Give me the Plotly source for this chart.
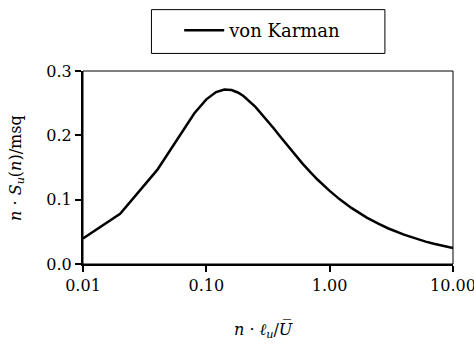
import plotly.graph_objects as go

# Reduced frequency n*l_u/U and normalised spectrum n*S_u(n)/sigma^2 (von Karman)
freq = [0.01, 0.02, 0.04, 0.06, 0.08, 0.10, 0.12, 0.14, 0.16, 0.18, 0.20,
        0.25, 0.30, 0.35, 0.40, 0.50, 0.60, 0.70, 0.80, 1.0, 1.2, 1.5,
        2.0, 2.5, 3.0, 4.0, 5.0, 6.0, 7.0, 8.0, 10.0]
spectrum = [0.0398, 0.0782, 0.1463, 0.1986, 0.2344, 0.2560, 0.2672, 0.2711,
            0.2704, 0.2666, 0.2612, 0.2443, 0.2271, 0.2113, 0.1973, 0.1742,
            0.1564, 0.1423, 0.1309, 0.1136, 0.1009, 0.0872, 0.0722, 0.0623,
            0.0552, 0.0456, 0.0393, 0.0348, 0.0314, 0.0287, 0.0248]
x_tickvals = [0.01, 0.1, 1, 10]
x_ticktext = ["0.01", "0.10", "1.00", "10.00"]
y_tickvals = [0.0, 0.1, 0.2, 0.3]

SERIF = "DejaVu Serif"

fig = go.Figure()
fig.add_trace(go.Scatter(
    x=freq, y=spectrum, mode="lines", name="von Karman",
    line=dict(color="black", width=2.5),
))

fig.update_layout(
    width=474, height=348,
    margin=dict(l=83, r=21, t=66, b=84),
    paper_bgcolor="white", plot_bgcolor="white",
    font=dict(family=SERIF, size=16, color="black"),
    showlegend=True,
    legend=dict(
        x=0.26, y=1.305, xanchor="left", yanchor="top",
        bgcolor="rgba(0,0,0,0)", borderwidth=0,
        font=dict(family=SERIF, size=18), itemwidth=40,
    ),
    xaxis=dict(
        type="log", range=[-2, 1], tickvals=x_tickvals,
        ticktext=x_ticktext, ticklabeloverflow="allow", automargin=False,
        showgrid=False, zeroline=False, showline=True, linecolor="black",
        linewidth=2, ticks="outside", ticklen=6, tickwidth=2,
        tickcolor="black",
    ),
    yaxis=dict(
        range=[0, 0.3], tickvals=y_tickvals, tickformat=".1f",
        automargin=False,
        showgrid=False, zeroline=False, showline=True, linecolor="black",
        linewidth=2, ticks="outside", ticklen=6, tickwidth=2,
        tickcolor="black",
    ),
    shapes=[
        # thin frame on the top and right of the plot area
        dict(type="rect", xref="paper", yref="paper", x0=0, y0=0, x1=1, y1=1,
             line=dict(color="black", width=1), layer="below"),
        # legend frame
        dict(type="rect", xref="paper", yref="paper", x0=0.185, y0=1.091,
             x1=0.816, y1=1.318, line=dict(color="black", width=1)),
    ],
    annotations=[
        dict(text="<i>n</i> · <i>S<sub>u</sub></i>(<i>n</i>)/msq",
             xref="paper", yref="paper", x=-0.18, y=0.5, textangle=-90,
             showarrow=False, xanchor="center", yanchor="middle",
             font=dict(family=SERIF, size=16)),
        dict(text="<i>n</i> · <i>ℓ<sub>u</sub></i>/<i>U̅</i>",
             xref="paper", yref="paper", x=0.488, y=-0.343,
             showarrow=False, xanchor="center", yanchor="middle",
             font=dict(family=SERIF, size=16)),
    ],
)

fig.write_html("out.html")
